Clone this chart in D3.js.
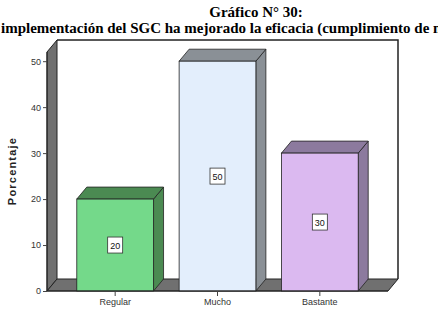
<!DOCTYPE html>
<html>
<head>
  <meta charset="utf-8">
  <script src="https://d3js.org/d3.v7.min.js"></script>
  <style>
    body { margin: 0; background: #fff; }
    svg { display: block; }
    .tick-label { font-family: "Liberation Sans", Arial, sans-serif; font-size: 9px; fill: #333; }
  </style>
</head>
<body>
  <div id="chart"></div>
  <script type="text/javascript">

    // Data
    var categories = ['Regular', 'Mucho', 'Bastante'];
    var values = [20, 50, 30];
    var yTicks = [0, 10, 20, 30, 40, 50];

    var fronts = ['#74d98a', '#e3eefc', '#dbb9f0'];
    var sides = ['#4b8a52', '#8a9096', '#8c7a9e'];

    var W = 438, H = 311;
    var dx = 10, dy = -12;  // depth offset

    var svg = d3.select('#chart').append('svg')
      .attr('width', W)
      .attr('height', H);

    // Titles
    svg.append('text')
      .text('Gráfico N° 30:')
      .attr('x', 256)
      .attr('y', 17)
      .attr('text-anchor', 'middle')
      .style('font-family', '"Liberation Serif", "Times New Roman", serif')
      .style('font-weight', 'bold')
      .style('font-size', '15px');

    svg.append('text')
      .text('implementación del SGC ha mejorado la eficacia (cumplimiento de metas)')
      .attr('x', 1)
      .attr('y', 33)
      .style('font-family', '"Liberation Serif", "Times New Roman", serif')
      .style('font-weight', 'bold')
      .style('font-size', '15px');

    // Scales
    var x = d3.scaleBand().domain(categories).range([64, 371]).paddingInner(0.25).paddingOuter(0.125);
    var y = d3.scaleLinear().domain([0, 52]).range([291, 52]);

    var x0 = 47, x1 = 388;
    var yb = y(0), yt = y(52);

    // back wall
    svg.append('rect')
      .attr('x', x0 + dx).attr('y', yt + dy)
      .attr('width', x1 - x0).attr('height', yb - yt)
      .attr('fill', '#fff');
    svg.append('path')
      .attr('d', 'M' + (x0 + dx) + ',' + (yt + dy) + 'H' + (x1 + dx) + 'V' + (yb + dy))
      .attr('fill', 'none').attr('stroke', '#222').attr('stroke-width', 1.5);

    // left wall
    svg.append('path')
      .attr('d', 'M' + x0 + ',' + yb + 'V' + yt + 'L' + (x0 + dx) + ',' + (yt + dy) + 'V' + (yb + dy) + 'Z')
      .attr('fill', '#707070').attr('stroke', '#222').attr('stroke-width', 1);

    // floor
    svg.append('path')
      .attr('d', 'M' + x0 + ',' + yb + 'H' + x1 + 'L' + (x1 + dx) + ',' + (yb + dy) + 'H' + (x0 + dx) + 'Z')
      .attr('fill', '#707070').attr('stroke', '#222').attr('stroke-width', 1);

    // bars
    var bars = svg.selectAll('g.bar')
      .data(values)
      .enter().append('g')
      .attr('class', 'bar');

    bars.append('path')
      .attr('d', function(d, i) {
        var bx = x(categories[i]) + x.bandwidth(), by = y(d);
        return 'M' + bx + ',' + yb + 'V' + by + 'l' + dx + ',' + dy + 'V' + (yb + dy) + 'Z';
      })
      .attr('fill', function(d, i) { return sides[i]; })
      .attr('stroke', '#222').attr('stroke-width', 0.8);

    bars.append('path')
      .attr('d', function(d, i) {
        var bx = x(categories[i]), by = y(d);
        return 'M' + bx + ',' + by + 'l' + dx + ',' + dy + 'h' + x.bandwidth() + 'l' + (-dx) + ',' + (-dy) + 'Z';
      })
      .attr('fill', function(d, i) { return sides[i]; })
      .attr('stroke', '#222').attr('stroke-width', 0.8);

    bars.append('rect')
      .attr('x', function(d, i) { return x(categories[i]); })
      .attr('y', function(d) { return y(d); })
      .attr('width', x.bandwidth())
      .attr('height', function(d) { return yb - y(d); })
      .attr('fill', function(d, i) { return fronts[i]; })
      .attr('stroke', '#222').attr('stroke-width', 0.8);

    // value boxes
    bars.append('rect')
      .attr('x', function(d, i) { return x(categories[i]) + x.bandwidth() / 2 - 7.5; })
      .attr('y', function(d) { return (y(d) + yb) / 2 - 8; })
      .attr('width', 15).attr('height', 16)
      .attr('fill', '#fff').attr('stroke', '#333').attr('stroke-width', 0.8);

    bars.append('text')
      .attr('class', 'tick-label')
      .attr('x', function(d, i) { return x(categories[i]) + x.bandwidth() / 2; })
      .attr('y', function(d) { return (y(d) + yb) / 2 + 3.5; })
      .attr('text-anchor', 'middle')
      .style('fill', '#111')
      .text(function(d) { return d; });

    // axes
    svg.append('line')
      .attr('x1', x0).attr('x2', x0).attr('y1', yt).attr('y2', yb)
      .attr('stroke', '#222');
    svg.append('line')
      .attr('x1', x0).attr('x2', x1).attr('y1', yb).attr('y2', yb)
      .attr('stroke', '#222');

    var yAxis = d3.axisLeft(y).tickValues(yTicks).tickSize(4).tickPadding(2);
    var gy = svg.append('g')
      .attr('transform', 'translate(' + x0 + ',0)')
      .call(yAxis);
    gy.select('.domain').remove();
    gy.selectAll('text').attr('class', 'tick-label').attr('fill', null);
    gy.selectAll('line').attr('stroke', '#444');

    var xAxis = d3.axisBottom(x).tickSize(5).tickPadding(3);
    var gx = svg.append('g')
      .attr('transform', 'translate(0,' + yb + ')')
      .call(xAxis);
    gx.select('.domain').remove();
    gx.selectAll('text').attr('class', 'tick-label').attr('fill', null);
    gx.selectAll('line').attr('stroke', '#444');

    svg.append('text')
      .text('Porcentaje')
      .attr('transform', 'translate(16,' + 171 + ') rotate(-90)')
      .attr('text-anchor', 'middle')
      .style('font-family', '"Liberation Sans", Arial, sans-serif')
      .style('font-size', '11px')
      .style('font-weight', 'bold')
      .style('letter-spacing', '1.2px')
      .style('fill', '#222');

  </script>
</body>
</html>
